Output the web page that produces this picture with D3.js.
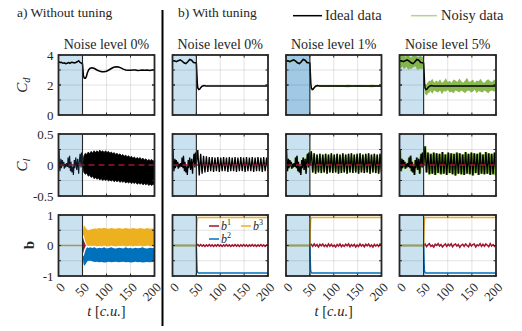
<!DOCTYPE html>
<html><head><meta charset="utf-8">
<script src="https://cdn.jsdelivr.net/npm/d3@7"></script>
<style>
body{margin:0;background:#fff}
svg{display:block}
</style>
</head><body><svg id="c" width="522" height="331"></svg>
<script>
// ---------------- data ----------------
const tTicks=[0,50,100,150,200];
const yDomains=[[0,4],[-0.5,0.5],[-1,1]];
const yLabelTicks=[[0,2,4],[-0.5,0,0.5],[-1,0,1]];
const yTickText=[["0","2","4"],["-0.5","0","0.5"],["-1","0","1"]];
const yGridTicks=[[1,2,3],[-0.25,0,0.25],[-0.5,0,0.5]];
const titles=["Noise level 0%","Noise level 0%","Noise level 1%","Noise level 5%"];
const actuationStart=50;

// Cd, without tuning
const tCdA=[0,3,6,9,12,15,18,21,24,27,30,33,36,39,42,45,48,50,51,52,54,56,58,60,63,66,70,75,80,85,90,95,100,105,110,115,120,125,130,135,140,145,150,155,160,165,170,175,180,185,190,195,200];
const cdA=[3.55,3.5,3.52,3.45,3.48,3.42,3.45,3.5,3.45,3.52,3.5,3.47,3.5,3.55,3.62,3.5,3.45,3.4,3.0,2.6,2.45,2.45,2.55,2.8,3.02,3.12,3.15,3.1,3.0,2.93,2.89,2.88,2.92,3.0,3.1,3.18,3.22,3.2,3.14,3.06,3.0,2.98,2.98,3.0,3.0,2.97,2.98,3.0,2.99,3.0,2.97,3.0,3.02];

// Cd, with tuning (ideal)
const tCdB=[0,4,8,12,16,20,24,28,32,36,40,44,48,50,51,52,53,55,57,59,62,66,70,80,90,100,110,120,130,140,150,160,170,180,190,200];
const cdB=[3.6,3.62,3.55,3.62,3.68,3.6,3.48,3.42,3.55,3.7,3.65,3.5,3.48,3.45,2.8,2.1,1.8,1.7,1.72,1.82,1.92,1.96,1.94,1.93,1.93,1.93,1.93,1.93,1.93,1.93,1.93,1.93,1.93,1.93,1.93,1.93];
// Cd noisy 1% band
const cdN1Up=[3.66,3.69,3.6,3.68,3.75,3.66,3.55,3.48,3.62,3.76,3.71,3.57,3.54,3.5,2.86,2.16,1.86,1.77,1.78,1.88,1.98,2.02,2.0,1.99,2.0,1.98,2.0,1.99,2.01,1.98,2.0,2.0,1.99,2.01,1.98,2.0];
const cdN1Lo=[3.54,3.55,3.49,3.56,3.61,3.54,3.42,3.36,3.48,3.63,3.58,3.44,3.41,3.39,2.74,2.04,1.74,1.64,1.66,1.76,1.86,1.9,1.88,1.87,1.86,1.88,1.86,1.87,1.85,1.88,1.86,1.87,1.86,1.85,1.88,1.86];
// Cd noisy 5% band
const tN5=[0,3,6,9,12,15,18,21,24,27,30,33,36,39,42,45,48,50,51,52,53,55,57,59,62,64,68,72,76,80,84,88,92,96,100,104,108,112,116,120,124,128,132,136,140,144,148,152,156,160,164,168,172,176,180,184,188,192,196,200];
const cdN5Up=[3.95,4.05,3.9,4.1,3.85,4.0,3.95,3.9,3.8,3.95,4.1,4.05,3.9,3.85,3.95,3.9,3.85,3.8,3.1,2.4,2.1,2.0,2.1,2.2,2.3,2.25,2.42,2.15,2.3,2.2,2.38,2.15,2.25,2.45,2.2,2.28,2.15,2.36,2.3,2.2,2.44,2.25,2.15,2.3,2.48,2.2,2.25,2.36,2.15,2.3,2.25,2.42,2.2,2.15,2.3,2.38,2.25,2.2,2.36,2.25];
const cdN5Lo=[3.2,3.1,3.25,3.05,3.15,3.2,3.0,3.1,3.05,3.15,3.2,3.25,3.05,3.0,3.1,3.05,3.1,3.0,2.4,1.7,1.4,1.35,1.3,1.45,1.5,1.6,1.42,1.65,1.55,1.5,1.64,1.38,1.6,1.55,1.68,1.5,1.55,1.45,1.64,1.58,1.5,1.64,1.55,1.45,1.6,1.64,1.5,1.55,1.68,1.45,1.6,1.55,1.5,1.64,1.55,1.45,1.6,1.64,1.55,1.6];

// Cl before actuation
const tClPre=[0,1,2,3,5,6,8,9,11,12,14,15,17,19,20,22,23,25,26,28,30,31,33,34,36,38,40,42,43,45,47,48,50];
const clPre=[0.05,0.25,0.0,-0.1,0.1,-0.05,0.08,-0.02,0.05,-0.06,0.02,-0.04,0.03,-0.03,0.12,-0.05,0.15,-0.1,0.05,-0.12,-0.02,-0.16,0.08,-0.05,0.12,-0.08,0.1,-0.14,0.02,0.18,-0.04,0.2,0.0];
// Cl after actuation (peak / trough samples)
const tClPost=[50,53,56,59,62,65,68,71,74,77,80,83,86,89,92,95,98,101,104,107,110,113,116,119,122,125,128,131,134,137,140,143,146,149,152,155,158,161,164,167,170,173,176,179,182,185,188,191,194,197,200];
const clT0=[0.0,0.24,-0.17,0.18,-0.14,0.15,-0.12,0.14,-0.11,0.13,-0.1,0.13,-0.11,0.12,-0.1,0.13,-0.11,0.12,-0.1,0.13,-0.1,0.12,-0.11,0.13,-0.1,0.12,-0.1,0.13,-0.11,0.12,-0.1,0.13,-0.1,0.12,-0.11,0.13,-0.1,0.12,-0.1,0.13,-0.11,0.12,-0.1,0.13,-0.1,0.12,-0.11,0.13,-0.1,0.12,-0.1];
const clT1=[0.0,0.22,-0.12,0.19,-0.14,0.17,-0.12,0.18,-0.13,0.17,-0.12,0.18,-0.14,0.17,-0.12,0.19,-0.13,0.17,-0.12,0.18,-0.14,0.17,-0.13,0.19,-0.12,0.17,-0.14,0.18,-0.12,0.19,-0.13,0.17,-0.12,0.18,-0.14,0.19,-0.12,0.17,-0.13,0.18,-0.12,0.19,-0.14,0.17,-0.12,0.18,-0.13,0.17,-0.14,0.18,-0.12];
const clT5=[0.0,0.3,-0.12,0.2,-0.15,0.18,-0.14,0.2,-0.16,0.19,-0.13,0.18,-0.15,0.21,-0.14,0.17,-0.16,0.2,-0.13,0.19,-0.15,0.18,-0.17,0.2,-0.14,0.19,-0.15,0.17,-0.16,0.21,-0.14,0.18,-0.15,0.2,-0.17,0.19,-0.13,0.18,-0.16,0.2,-0.14,0.17,-0.15,0.21,-0.14,0.19,-0.16,0.18,-0.15,0.2,-0.17];
// Cl without tuning: envelope of the dense oscillation
const clAUp=[0.0,0.15,0.19,0.17,0.21,0.18,0.22,0.19,0.23,0.2,0.23,0.2,0.24,0.21,0.23,0.2,0.23,0.2,0.22,0.19,0.21,0.18,0.2,0.17,0.19,0.16,0.18,0.15,0.17,0.14,0.16,0.13,0.15,0.12,0.14,0.11,0.13,0.1,0.12,0.1,0.12,0.09,0.11,0.08,0.1,0.07,0.09,0.07,0.09,0.06,0.08];
const clALo=[0.0,-0.12,-0.15,-0.13,-0.18,-0.16,-0.2,-0.18,-0.22,-0.2,-0.23,-0.21,-0.24,-0.22,-0.25,-0.23,-0.25,-0.23,-0.26,-0.24,-0.26,-0.24,-0.27,-0.25,-0.27,-0.25,-0.28,-0.26,-0.28,-0.26,-0.29,-0.27,-0.29,-0.27,-0.3,-0.28,-0.3,-0.28,-0.31,-0.29,-0.31,-0.29,-0.32,-0.3,-0.32,-0.3,-0.33,-0.31,-0.33,-0.31,-0.32];
const clZeroT=[0,200], clZero=[0,0];

// b without tuning: bands
const tBA=[50,51,52,53,54,56,58,60,63,66,70,75,80,85,90,95,100,105,110,115,120,125,130,135,140,145,150,155,160,165,170,175,180,185,190,195,200];
const b3AUp=[0.3,0.45,0.6,0.66,0.65,0.6,0.55,0.52,0.5,0.52,0.54,0.56,0.55,0.57,0.56,0.58,0.56,0.55,0.57,0.56,0.55,0.57,0.56,0.55,0.57,0.56,0.55,0.57,0.56,0.55,0.57,0.56,0.55,0.57,0.55,0.56,0.55];
const b3ALo=[0.3,0.32,0.35,0.32,0.25,0.12,0.05,0.0,-0.02,0.0,-0.02,0.0,-0.03,-0.01,-0.03,0.0,-0.02,-0.03,0.0,-0.02,-0.03,-0.01,-0.02,0.0,-0.03,-0.02,0.0,-0.03,-0.01,-0.02,0.0,-0.03,-0.02,0.0,-0.02,-0.03,-0.01];
const b2AUp=[-0.3,-0.33,-0.36,-0.33,-0.27,-0.16,-0.1,-0.06,-0.08,-0.06,-0.08,-0.06,-0.1,-0.07,-0.09,-0.06,-0.1,-0.08,-0.06,-0.09,-0.1,-0.07,-0.08,-0.1,-0.06,-0.09,-0.08,-0.1,-0.07,-0.09,-0.08,-0.06,-0.09,-0.1,-0.07,-0.08,-0.09];
const b2ALo=[-0.3,-0.45,-0.58,-0.65,-0.66,-0.62,-0.57,-0.52,-0.5,-0.5,-0.52,-0.54,-0.53,-0.55,-0.54,-0.56,-0.55,-0.53,-0.55,-0.54,-0.53,-0.55,-0.54,-0.53,-0.55,-0.54,-0.56,-0.55,-0.53,-0.55,-0.54,-0.56,-0.55,-0.54,-0.55,-0.54,-0.53];
const tB1A=[50,53,57], b1AUp=[0.33,0.15,0.0], b1ALo=[-0.33,-0.15,0.0];
const tBPre=[0,50], bPre=[0,0];
// b with tuning
const tB=[0,50,50.7,51.5,52.5,54,200];
const b3T=[0,0,0.45,0.8,0.9,0.92,0.92];
const b2T=[0,0,-0.45,-0.8,-0.88,-0.9,-0.9];
const b1T0=[0.0,0.03,-0.02,0.03,-0.02,0.02,-0.03,0.02,-0.02,0.03,-0.02,0.02,-0.03,0.02,-0.02,0.03,-0.02,0.02,-0.03,0.02,-0.02,0.03,-0.02,0.02,-0.03,0.02,-0.02,0.03,-0.02,0.02,-0.03,0.02,-0.02,0.03,-0.02,0.02,-0.03,0.02,-0.02,0.03,-0.02,0.02,-0.03,0.02,-0.02,0.03,-0.02,0.02,-0.03,0.02,0.0];
const b1T1=[0.0,0.04,-0.03,0.05,-0.02,0.03,-0.05,0.04,-0.01,0.05,-0.03,0.02,-0.04,0.05,-0.02,0.04,-0.03,0.01,-0.05,0.03,-0.02,0.05,-0.04,0.02,-0.03,0.04,-0.01,0.05,-0.04,0.03,-0.02,0.04,-0.05,0.02,-0.03,0.05,-0.02,0.03,-0.04,0.04,-0.01,0.05,-0.03,0.02,-0.05,0.04,-0.02,0.03,-0.03,0.05,0.0];
const b1T5=[0.0,0.05,-0.04,0.02,0.06,-0.03,0.01,-0.05,0.04,0.0,0.06,-0.02,0.03,-0.05,0.01,0.05,-0.03,0.04,-0.01,0.06,-0.04,0.02,0.05,-0.02,0.03,-0.06,0.01,0.04,-0.03,0.05,0.0,-0.04,0.06,-0.02,0.03,0.05,-0.05,0.02,-0.01,0.06,-0.03,0.04,-0.02,0.05,0.01,-0.04,0.06,-0.02,0.03,-0.03,0.02];

// ---------------- style/layout ----------------
const FONT="Liberation Serif";
const C={ink:"#262626",red:"#A2142F",blue:"#0072BD",yellow:"#EDB120",green:"#77AC30",
  shade:"#cae1f0",shadeDark:"#9fc9e4",olive:"#a09d52"};
const colX=[[58.5,154.5],[172.5,268],[286,381.5],[399.5,496]];
const rowY=[[55,115],[134,196],[215,276]];
const svg=d3.select("#c");
const zip=(a,b)=>a.map((v,i)=>[v,b[i]]);
const zip3=(a,b,c)=>a.map((v,i)=>[v,b[i],c[i]]);
function txt(sel){return sel.append("text").attr("font-family",FONT).attr("fill",C.ink);}

function makePanel(ci,ri){
  const [x0,x1]=colX[ci],[y0,y1]=rowY[ri];
  const x=d3.scaleLinear([0,200],[x0,x1]);
  const y=d3.scaleLinear(yDomains[ri],[y1,y0]);
  const id=`clip${ci}${ri}`;
  svg.append("clipPath").attr("id",id).append("rect")
    .attr("x",x0).attr("y",y0).attr("width",x1-x0).attr("height",y1-y0);
  const g=svg.append("g");
  g.append("rect").attr("x",x0).attr("y",y0).attr("width",x1-x0).attr("height",y1-y0).attr("fill","#fff");
  g.append("rect").attr("x",x(0)).attr("y",y0).attr("width",x(actuationStart)-x(0)).attr("height",y1-y0)
    .attr("fill",(ci===2&&ri===0)?C.shadeDark:C.shade);
  const grid=g.append("g").attr("stroke","#262626").attr("stroke-opacity",0.13).attr("stroke-width",1);
  tTicks.slice(1,-1).forEach(t=>grid.append("line").attr("x1",x(t)).attr("x2",x(t)).attr("y1",y0).attr("y2",y1));
  yGridTicks[ri].forEach(v=>grid.append("line").attr("x1",x0).attr("x2",x1).attr("y1",y(v)).attr("y2",y(v)));
  const plot=g.append("g").attr("clip-path",`url(#${id})`);
  const line=d3.line().x(d=>x(d[0])).y(d=>y(d[1]));
  const area=d3.area().x(d=>x(d[0])).y0(d=>y(d[2])).y1(d=>y(d[1]));
  return {ci,ri,x,y,g,plot,line,area,x0,x1,y0,y1};
}
function finishPanel(p){
  const {g,x,y,x0,x1,y0,y1,ri,ci}=p;
  g.append("line").attr("x1",x(actuationStart)).attr("x2",x(actuationStart)).attr("y1",y0).attr("y2",y1)
    .attr("stroke",C.ink).attr("stroke-width",1.1);
  const tk=g.append("g").attr("stroke",C.ink).attr("stroke-width",1);
  tTicks.forEach(t=>{
    tk.append("line").attr("x1",x(t)).attr("x2",x(t)).attr("y1",y1).attr("y2",y1-2.5);
    tk.append("line").attr("x1",x(t)).attr("x2",x(t)).attr("y1",y0).attr("y2",y0+2.5);
  });
  yGridTicks[ri].concat(yLabelTicks[ri]).forEach(v=>{
    tk.append("line").attr("x1",x0).attr("x2",x0+2.5).attr("y1",y(v)).attr("y2",y(v));
    tk.append("line").attr("x1",x1).attr("x2",x1-2.5).attr("y1",y(v)).attr("y2",y(v));
  });
  g.append("rect").attr("x",x0).attr("y",y0).attr("width",x1-x0).attr("height",y1-y0)
    .attr("fill","none").attr("stroke",C.ink).attr("stroke-width",1.8);
  if(ci===0){
    yLabelTicks[ri].forEach((v,i)=>txt(g).attr("x",x0-5).attr("y",y(v)).attr("dy","0.35em")
      .attr("text-anchor","end").attr("font-size",13).text(yTickText[ri][i]));
  }
  if(ri===2){
    tTicks.forEach(t=>txt(g).attr("transform",`translate(${x(t)+4},${y1+9}) rotate(-45)`)
      .attr("text-anchor","end").attr("dy","0.35em").attr("font-size",13).text(t));
  }
  if(ri===0){
    txt(g).attr("x",(x0+x1)/2).attr("y",y0-6).attr("text-anchor","middle").attr("font-size",14).text(titles[ci]);
  }
}

// ---------------- Cd row ----------------
for(let ci=0;ci<4;ci++){
  const p=makePanel(ci,0);
  if(ci===0){
    p.plot.append("path").attr("d",p.line(zip(tCdA,cdA))).attr("fill","none").attr("stroke","#000").attr("stroke-width",1.5);
  }else{
    if(ci===2) p.plot.append("path").attr("d",p.area(zip3(tCdB,cdN1Up,cdN1Lo))).attr("fill",C.green).attr("opacity",0.9);
    if(ci===3) p.plot.append("path").attr("d",p.area(zip3(tN5,cdN5Up,cdN5Lo))).attr("fill",C.green).attr("opacity",0.85);
    p.plot.append("path").attr("d",p.line(zip(tCdB,cdB))).attr("fill","none").attr("stroke","#000").attr("stroke-width",1.5);
  }
  finishPanel(p);
}
// ---------------- Cl row ----------------
const clSeries=[null,clT0,clT1,clT5];
for(let ci=0;ci<4;ci++){
  const p=makePanel(ci,1);
  const pre=zip(tClPre,clPre);
  if(ci===0){
    p.plot.append("path").attr("d",p.line(pre)).attr("fill","none").attr("stroke","#0b1a26").attr("stroke-width",1.2);
    p.plot.append("path").attr("d",p.area(zip3(tClPost,clAUp,clALo))).attr("fill","#000").attr("stroke","#000").attr("stroke-width",0.8);
  }else{
    const full=pre.concat(zip(tClPost,clSeries[ci]).slice(1));
    if(ci===3) p.plot.append("path").attr("d",p.line(full)).attr("fill","none").attr("stroke",C.green).attr("stroke-width",2.6);
    if(ci===2) p.plot.append("path").attr("d",p.line(full)).attr("fill","none").attr("stroke",C.green).attr("stroke-width",1.8);
    p.plot.append("path").attr("d",p.line(full)).attr("fill","none").attr("stroke","#000").attr("stroke-width",1.3);
  }
  p.plot.append("path").attr("d",p.line(zip(clZeroT,clZero))).attr("fill","none").attr("stroke",C.red)
    .attr("stroke-width",1.5).attr("stroke-dasharray","6,4");
  finishPanel(p);
}
// ---------------- b row ----------------
const b1Series=[null,b1T0,b1T1,b1T5];
for(let ci=0;ci<4;ci++){
  const p=makePanel(ci,2);
  if(ci===0){
    p.plot.append("path").attr("d",p.area(zip3(tB1A,b1AUp,b1ALo))).attr("fill",C.red);
    p.plot.append("path").attr("d",p.area(zip3(tBA,b2AUp,b2ALo))).attr("fill",C.blue);
    p.plot.append("path").attr("d",p.area(zip3(tBA,b3AUp,b3ALo))).attr("fill",C.yellow);
  }else{
    p.plot.append("path").attr("d",p.line(zip(tClPost,b1Series[ci]))).attr("fill","none").attr("stroke",C.red).attr("stroke-width",1.5);
    p.plot.append("path").attr("d",p.line(zip(tB,b2T))).attr("fill","none").attr("stroke",C.blue).attr("stroke-width",1.5);
    p.plot.append("path").attr("d",p.line(zip(tB,b3T))).attr("fill","none").attr("stroke",C.yellow).attr("stroke-width",1.5);
  }
  p.plot.append("path").attr("d",p.line(zip(tBPre,bPre))).attr("fill","none").attr("stroke",C.olive).attr("stroke-width",1.5);
  finishPanel(p);
  if(ci===1){
    const L=p.g.append("g");
    const items=[{c:C.red,s:"1",x:209,y:226},{c:C.yellow,s:"3",x:241,y:226},{c:C.blue,s:"2",x:209,y:239}];
    items.forEach(it=>{
      L.append("line").attr("x1",it.x).attr("x2",it.x+10).attr("y1",it.y).attr("y2",it.y).attr("stroke",it.c).attr("stroke-width",1.5);
      const t=txt(L).attr("x",it.x+12).attr("y",it.y+3.5).attr("font-size",12).attr("font-style","italic");
      t.append("tspan").text("b");
      t.append("tspan").attr("dy",-4.5).attr("font-size",8).attr("font-style","normal").text(it.s);
    });
  }
}

// ---------------- annotations ----------------
svg.append("line").attr("x1",162.5).attr("x2",162.5).attr("y1",10).attr("y2",326).attr("stroke","#000").attr("stroke-width",2);
txt(svg).attr("x",17).attr("y",17).attr("font-size",13.5).text("a) Without tuning");
txt(svg).attr("x",178).attr("y",17).attr("font-size",13.5).text("b) With tuning");
svg.append("line").attr("x1",293).attr("x2",322).attr("y1",15.7).attr("y2",15.7).attr("stroke","#000").attr("stroke-width",1.5);
txt(svg).attr("x",325).attr("y",19.5).attr("font-size",14.5).text("Ideal data");
svg.append("line").attr("x1",411).attr("x2",437).attr("y1",15.7).attr("y2",15.7).attr("stroke",C.green).attr("stroke-opacity",0.55).attr("stroke-width",1.5);
txt(svg).attr("x",441).attr("y",19.5).attr("font-size",14.5).text("Noisy data");

function yTitle(x,y,main,sub,bold){
  const t=txt(svg).attr("transform",`translate(${x},${y}) rotate(-90)`).attr("text-anchor","middle").attr("font-size",15);
  const m=t.append("tspan").text(main);
  if(bold) m.attr("font-weight","bold"); else m.attr("font-style","italic");
  if(sub) t.append("tspan").attr("dy",3).attr("font-size",10.5).attr("font-style","italic").text(sub);
}
yTitle(27,85,"C","d");
yTitle(27,165,"C","l");
yTitle(34,245,"b",null,true);

function xTitle(cx){
  const t=txt(svg).attr("x",cx).attr("y",316).attr("text-anchor","middle").attr("font-size",14.5);
  t.append("tspan").attr("font-style","italic").text("t");
  t.append("tspan").text(" [");
  t.append("tspan").attr("font-style","italic").text("c.u.");
  t.append("tspan").text("]");
}
xTitle((colX[0][0]+colX[0][1])/2);
xTitle((colX[2][0]+colX[2][1])/2);
</script></body></html>
